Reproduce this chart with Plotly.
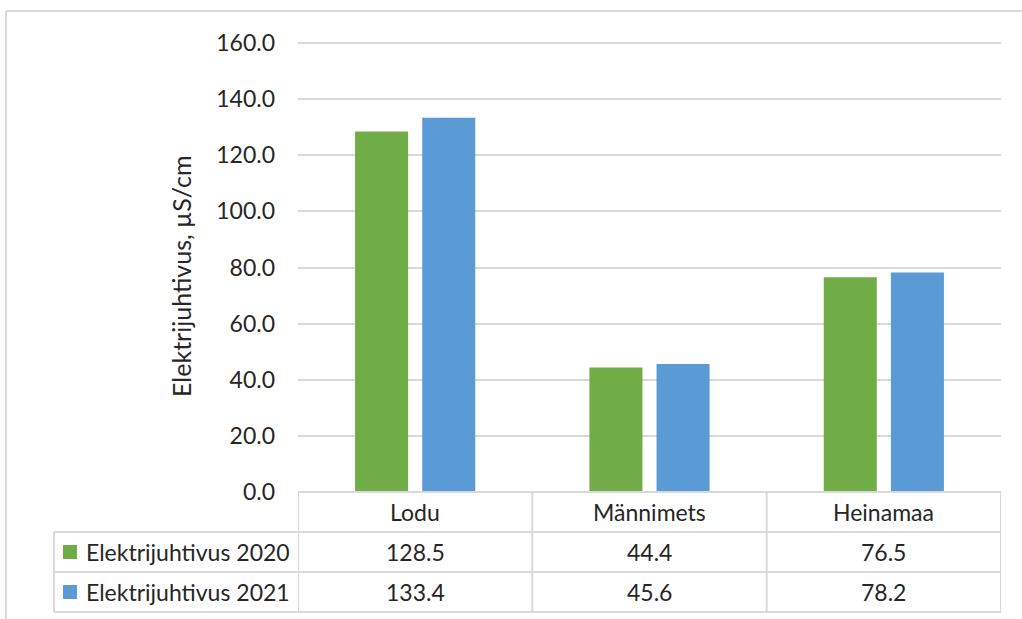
import plotly.graph_objects as go

# Data
categories = ["Lodu", "Männimets", "Heinamaa"]
series_names = ["Elektrijuhtivus 2020", "Elektrijuhtivus 2021"]
values_2020 = [128.5, 44.4, 76.5]
values_2021 = [133.4, 45.6, 78.2]
y_ticks = [0, 20, 40, 60, 80, 100, 120, 140, 160]

series_values = [values_2020, values_2021]
colors = ["#70AD47", "#5B9BD5"]

W, H = 1022, 619
FONT = "Lato"
TEXT = "#262626"
GRID = "#d9d9d9"


def px(x):
    return x / W


def py(y):
    return 1 - y / H


# Plot-area layout in pixels (value 0 at y=492, value 160 at y=43)
left, right, top, bottom = 298, 1001, 43, 492
pad = 1.5                        # a little headroom so the 160 gridline is kept
row_lines = [532, 572, 612]      # horizontal rules of the data table
row_centers = [552, 592]         # vertical centers of the two data rows
header_center = 512
table_left = 54
ppu = (bottom - top) / 160.0     # pixels per value unit

fig = go.Figure()
for name, vals, col in zip(series_names, series_values, colors):
    fig.add_trace(go.Bar(
        x=categories, y=vals, name=name, marker=dict(color=col, line=dict(width=0)),
        showlegend=False,
    ))

fig.update_layout(
    width=W, height=H, autosize=False,
    margin=dict(l=0, r=0, t=0, b=0, pad=0, autoexpand=False),
    paper_bgcolor="white", plot_bgcolor="white",
    barmode="group", bargap=0.427, bargroupgap=0.21,
    font=dict(family=FONT, color=TEXT, size=23),
    xaxis=dict(
        domain=[px(left), px(right)], range=[-0.5, len(categories) - 0.5],
        showticklabels=False, showgrid=False, zeroline=False, showline=False,
        automargin=False, fixedrange=True,
    ),
    yaxis=dict(
        domain=[py(bottom + pad), py(top - pad)],
        range=[-pad / ppu, 160 + pad / ppu], tickvals=y_ticks,
        tickformat=".1f", showgrid=True, gridcolor=GRID, gridwidth=2,
        zeroline=False, showline=False, ticklabelstandoff=22, automargin=False,
        tickfont=dict(family=FONT, size=23, color=TEXT), fixedrange=True,
    ),
)

shapes = []
line_style = dict(color=GRID, width=2)

# Outer chart frame (top and left edges visible)
shapes.append(dict(type="line", xref="paper", yref="paper",
                   x0=px(6), x1=1.02, y0=py(11), y1=py(11), line=line_style))
shapes.append(dict(type="line", xref="paper", yref="paper",
                   x0=px(6), x1=px(6), y0=py(11), y1=-0.02, line=line_style))

# Data table: header top rule along the category axis
shapes.append(dict(type="line", xref="x", yref="paper",
                   x0=-0.5, x1=len(categories) - 0.5, y0=py(bottom), y1=py(bottom),
                   line=line_style))
# Row rules spanning the series-name column and the value columns
for ry in row_lines:
    shapes.append(dict(type="line", xref="paper", yref="paper",
                       x0=px(table_left), x1=px(right), y0=py(ry), y1=py(ry),
                       line=line_style))
# Column rules at category boundaries
for i in range(len(categories) + 1):
    shapes.append(dict(type="line", xref="x", yref="paper",
                       x0=i - 0.5, x1=i - 0.5, y0=py(bottom), y1=py(row_lines[-1]),
                       line=line_style))
# Left edge of the series-name column
shapes.append(dict(type="line", xref="paper", yref="paper",
                   x0=px(table_left), x1=px(table_left),
                   y0=py(row_lines[0]), y1=py(row_lines[-1]), line=line_style))

# Legend keys inside the table
for cy, col in zip(row_centers, colors):
    shapes.append(dict(type="rect", xref="paper", yref="paper",
                       x0=px(63), x1=px(77), y0=py(cy + 7), y1=py(cy - 7),
                       fillcolor=col, line=dict(width=0)))

annotations = []
# Header row: category names
for cat in categories:
    annotations.append(dict(x=cat, y=py(header_center), xref="x", yref="paper",
                            text=cat, showarrow=False, xanchor="center", yanchor="middle",
                            font=dict(family=FONT, size=23, color=TEXT)))
# Series names and values
for cy, name, vals in zip(row_centers, series_names, series_values):
    annotations.append(dict(x=px(84), y=py(cy), xref="paper", yref="paper",
                            text=name, showarrow=False, xanchor="left", yanchor="middle",
                            font=dict(family=FONT, size=23, color=TEXT)))
    for cat, v in zip(categories, vals):
        annotations.append(dict(x=cat, y=py(cy), xref="x", yref="paper",
                                text=f"{v:.1f}", showarrow=False, xanchor="center",
                                yanchor="middle",
                                font=dict(family=FONT, size=23, color=TEXT)))

# Y-axis title
annotations.append(dict(x=px(181), y=py(276), xref="paper", yref="paper",
                        text="Elektrijuhtivus, µS/cm", textangle=-90, showarrow=False,
                        xanchor="center", yanchor="middle",
                        font=dict(family=FONT, size=25, color=TEXT)))

fig.update_layout(shapes=shapes, annotations=annotations)

fig.write_html("out.html", config={"responsive": False, "displayModeBar": False})
